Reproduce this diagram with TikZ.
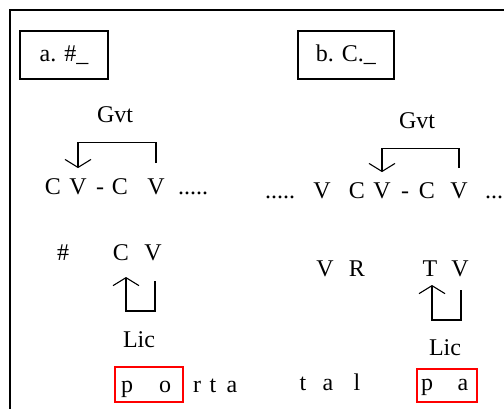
\documentclass[tikz,border=0pt]{standalone}
\usepackage{fontspec}
\setmainfont{Liberation Serif}
\usetikzlibrary{arrows.meta}
\begin{document}
\begin{tikzpicture}[x=1pt,y=-1pt,
  lt/.style={inner sep=0pt, anchor=base, font=\fontsize{24}{28}\selectfont},
  br/.style={line width=1.1pt},
  barb/.style={-{Straight Barb[length=8pt,width=26pt,line width=1.1pt]}},
  lbl/.style={draw, line width=1.4pt, minimum width=88pt, minimum height=48pt, inner sep=0pt, font=\fontsize{24}{28}\selectfont},
  redbox/.style={draw=red, line width=1.4pt, inner sep=0pt}]
\clip (0,0) rectangle (504,408);
\fill[white] (0,0) rectangle (504,408);
\draw[line width=2pt] (10,420) -- (10,10) -- (520,10);
% label boxes
\node[lbl] (boxa) at (64,55) {a. \#\_};
\node[lbl, minimum width=96pt] (boxb) at (346,55) {b. C.\_};
% left upper row
\node[lt] (gvta) at (115,122) {Gvt};
\node[lt] (a1) at (53,194) {C};
\node[lt] (a2) at (78,194) {V};
\node[lt] (a3) at (100,194) {-};
\node[lt] (a4) at (120,194) {C};
\node[lt] (a5) at (156,194) {V};
\node[lt] (adots) at (193,194) {.....};
% right upper row
\node[lt] (gvtb) at (417,128) {Gvt};
\node[lt] (bdots1) at (280,198) {.....};
\node[lt] (b1) at (322,198) {V};
\node[lt] (b2) at (357,198) {C};
\node[lt] (b3) at (382,198) {V};
\node[lt] (b4) at (405,198) {-};
\node[lt] (b5) at (427,198) {C};
\node[lt] (b6) at (459,198) {V};
\node[lt, anchor=base west] (bdots2) at (485,198) {...};
% left lower
\node[lt] (hash) at (63,260) {\#};
\node[lt] (c1) at (121,260) {C};
\node[lt] (c2) at (153,260) {V};
\node[lt] (lica) at (139,347) {Lic};
% right lower
\node[lt] (d1) at (325,276) {V};
\node[lt] (d2) at (357,276) {R};
\node[lt] (d3) at (430,276) {T};
\node[lt] (d4) at (460,276) {V};
\node[lt] (licb) at (445,355) {Lic};
% bottom words
\node[redbox, minimum width=68pt, minimum height=35pt] (rba) at (149,384.5) {};
\node[lt] (w1) at (127,392) {p};
\node[lt] (w2) at (165,392) {o};
\node[lt] (w3) at (197,392) {r};
\node[lt] (w4) at (213,392) {t};
\node[lt] (w5) at (232,392) {a};
\node[lt] (x1) at (303,390) {t};
\node[lt] (x2) at (328,390) {a};
\node[lt] (x3) at (357,390) {l};
\node[redbox, minimum width=60pt, minimum height=33pt] (rbb) at (447,385.5) {};
\node[lt] (x4) at (427,390) {p};
\node[lt] (x5) at (463,390) {a};
% Gvt brackets
\draw[br,barb] ([yshift=15pt]a5.north) |- ([yshift=36pt]a2.north) -- ([yshift=10pt]a2.north);
\draw[br,barb] ([yshift=14pt]b6.north) |- ([yshift=34pt]b3.north) -- ([yshift=10pt]b3.north);
% Lic brackets
\draw[br,barb] ([xshift=2pt,yshift=-21pt]c2.base) |- ([xshift=5pt,yshift=-51pt]c1.base) -- ([xshift=5pt,yshift=-17pt]c1.base);
\draw[br,barb] ([xshift=1pt,yshift=-14pt]d4.base) |- ([xshift=2pt,yshift=-44pt]d3.base) -- ([xshift=2pt,yshift=-9pt]d3.base);
\end{tikzpicture}
\end{document}
